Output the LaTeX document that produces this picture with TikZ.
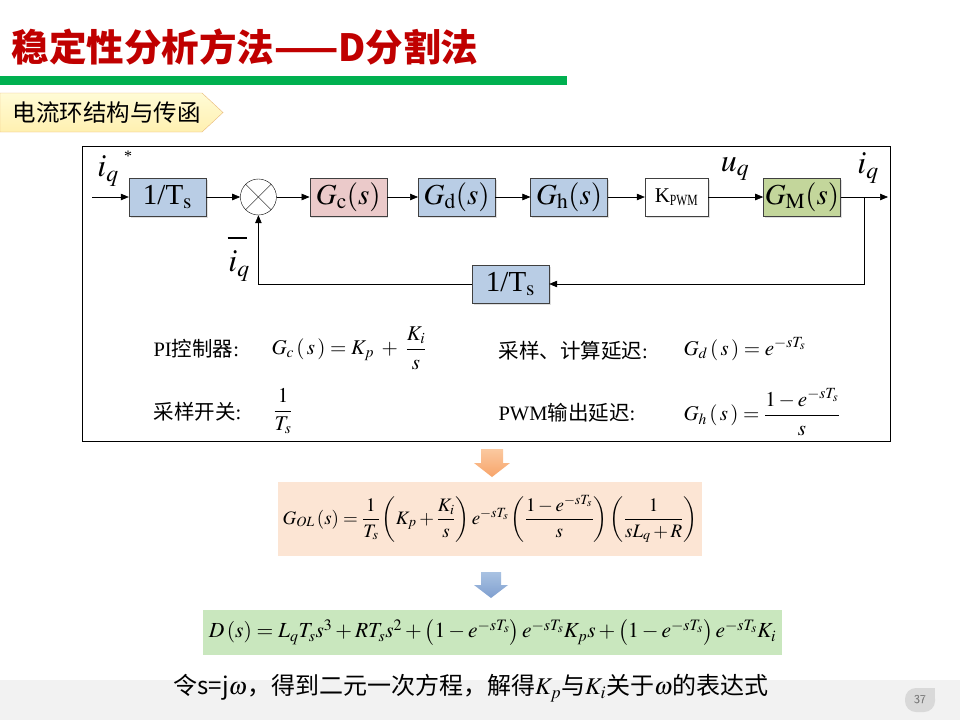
\documentclass[tikz,border=0pt]{standalone}
\usepackage{amsmath}
\usepackage[no-math]{fontspec}
\usepackage{mathptmx}
\usepackage{graphicx}
\setmainfont{Liberation Serif}
\newfontfamily\cjk{Noto Sans CJK SC}
\usetikzlibrary{arrows.meta, positioning, shadows}
\definecolor{TitleRed}{HTML}{C00000}
\definecolor{BarGreen}{HTML}{00B050}
\definecolor{TabTop}{HTML}{FFFBD6}
\definecolor{TabBottom}{HTML}{FFF0B0}
\definecolor{TabEdge}{HTML}{E8B878}
\definecolor{BlockBlue}{HTML}{B9CDE5}
\definecolor{BlockPink}{HTML}{EBCACA}
\definecolor{BlockGreen}{HTML}{C3D69B}
\definecolor{EdgeGray}{HTML}{404040}
\definecolor{OLFill}{HTML}{FCE5D4}
\definecolor{DFill}{HTML}{C9E7BE}
\definecolor{OrangeTop}{HTML}{FBC9A0}
\definecolor{OrangeBottom}{HTML}{F7A46A}
\definecolor{BlueTop}{HTML}{A9C2E2}
\definecolor{BlueBottom}{HTML}{7F9FCF}
\definecolor{StripGray}{HTML}{F2F2F2}
\definecolor{NumGray}{HTML}{D9D9D9}
\definecolor{NumText}{HTML}{7F7F7F}

\begin{document}
\begin{tikzpicture}[x=1pt, y=-1pt,
    block/.style={rectangle, draw=EdgeGray, fill=BlockBlue, minimum width=77pt, minimum height=38pt, inner sep=0pt, font=\fontsize{29}{29}\selectfont, drop shadow={opacity=0.25, shadow xshift=1.5pt, shadow yshift=-1.5pt}},
    ctrlblock/.style={block, fill=BlockPink},
    plantblock/.style={block, fill=BlockGreen},
    gainblock/.style={block, fill=white, minimum width=63pt, font=\fontsize{21}{21}\selectfont},
    sumnode/.style={circle, draw, fill=white, minimum size=36pt, inner sep=0pt, path picture={
        \draw (path picture bounding box.north west) -- (path picture bounding box.south east);
        \draw (path picture bounding box.south west) -- (path picture bounding box.north east);}},
    arrow/.style={-{Triangle[length=8pt,width=6.5pt]}, semithick},
    siglabel/.style={font=\fontsize{32}{32}\selectfont},
    note/.style={anchor=west, font=\cjk\fontsize{20.5}{21}\selectfont},
    formula/.style={anchor=west, font=\fontsize{21}{21}\selectfont},
    eqbox/.style={inner sep=0pt}
  ]
  \useasboundingbox[fill=white] (0,0) rectangle (960,720);
  \fill[StripGray] (0,680) rectangle (960,720);

  \node[anchor=west, text=TitleRed, font=\cjk\bfseries\fontsize{37.5}{40}\selectfont] (title) at (8,47) {稳定性分析方法——D分割法};
  \fill[BarGreen] (0,76) rectangle (567,85);
  \draw[TabEdge, top color=TabTop, bottom color=TabBottom] (0,93) -- (202,93) -- (223,112.5) -- (202,132) -- (0,132) -- cycle;
  \node[anchor=west, font=\cjk\fontsize{23.5}{24}\selectfont] (tab) at (9,113) {电流环结构与传函};

  \draw[semithick] (82,146) rectangle (890,441);

  \node[block] (ts) at (167.5,197) {1/T$_\mathrm{s}$};
  \node[sumnode, right=34pt of ts] (sum) {};
  \node[ctrlblock, right=33pt of sum] (gc) {$G_\mathrm{c}(s)$};
  \node[block, right=31pt of gc] (gd) {$G_\mathrm{d}(s)$};
  \node[block, right=35pt of gd] (gh) {$G_\mathrm{h}(s)$};
  \node[gainblock, right=37pt of gh] (kpwm) {K$_{\text{\scalebox{0.75}[1]{PWM}}}$};
  \node[plantblock, right=55pt of kpwm] (gm) {$G_\mathrm{M}(s)$};
  \node[block] (fb) at (510.5,284) {1/T$_\mathrm{s}$};
  \coordinate (in) at (92,197);
  \coordinate (br) at (864,197);
  \coordinate (out) at (888,197);

  \draw[arrow] (in) -- (ts);
  \draw[arrow] (ts) -- (sum);
  \draw[arrow] (sum) -- (gc);
  \draw[arrow] (gc) -- (gd);
  \draw[arrow] (gd) -- (gh);
  \draw[arrow] (gh) -- (kpwm);
  \draw[arrow] (kpwm) -- (gm);
  \draw[arrow] (gm) -- (out);
  \draw[arrow] (br) |- (fb);
  \draw[arrow] (fb) -| (sum);

  \node[siglabel] (iqref) at (108,171) {$i_q$};
  \node[font=\fontsize{16}{16}\selectfont] (star) at (128,156) {*};
  \node[siglabel] (uq) at (735,169) {$u_q$};
  \node[siglabel] (iqout) at (868,168) {$i_q$};
  \node[inner sep=0pt] (minus) at (237,238) {\rule{19pt}{2.4pt}};
  \node[siglabel] (iqfb) at (239,266) {$i_q$};

  \node[note] (pilabel) at (150,349) {{\rmfamily PI}控制器{\rmfamily :}};
  \node[formula] (gcform) at (268,348) {$G_c\left(\,s\,\right)=K_p\;+\;\dfrac{K_i}{s}$};
  \node[note] (tslabel) at (150,412) {采样开关{\rmfamily :}};
  \node[formula] (tsform) at (270,411) {$\dfrac{1}{T_s}$};
  \node[note] (gdlabel) at (495,351) {采样、计算延迟{\rmfamily :}};
  \node[formula] (gdform) at (680,349) {$G_d\left(\,s\,\right)=e^{-sT_s}$};
  \node[note] (ghlabel) at (495,413) {{\rmfamily PWM}输出延迟{\rmfamily :}};
  \node[formula] (ghform) at (680,412) {$G_h\left(\,s\,\right)=\dfrac{1-e^{-sT_s}}{s}$};

  \draw[draw=none, top color=OrangeTop, bottom color=OrangeBottom] (481,449) -- (503,449) -- (503,463) -- (510,463) -- (492,477) -- (474,463) -- (481,463) -- cycle;
  \node[eqbox, fill=OLFill, minimum width=424pt, minimum height=74pt, font=\fontsize{19}{19}\selectfont] (olbox) at (490,519)
    {$G_{OL}\left(s\right)=\dfrac{1}{T_s}\left(K_p+\dfrac{K_i}{s}\right)e^{-sT_s}\left(\dfrac{1-e^{-sT_s}}{s}\right)\left(\dfrac{1}{sL_q+R}\right)$};
  \draw[draw=none, top color=BlueTop, bottom color=BlueBottom] (481,572) -- (501,572) -- (501,585) -- (508,585) -- (491,598) -- (474,585) -- (481,585) -- cycle;
  \node[eqbox, fill=DFill, minimum width=579pt, minimum height=45pt, font=\fontsize{21.5}{21.5}\selectfont] (dbox) at (492.5,632.5)
    {$D\left(s\right)=L_qT_ss^3+RT_ss^2+\left(1-e^{-sT_s}\right)e^{-sT_s}K_ps+\left(1-e^{-sT_s}\right)e^{-sT_s}K_i$};

  \node[font=\cjk\fontsize{24}{24}\selectfont] (hint) at (471,688) {令s=j$\omega$，得到二元一次方程，解得$K_p$与$K_i$关于$\omega$的表达式};

  \node[fill=NumGray, rounded corners=11pt, minimum width=30pt, minimum height=24pt, text=NumText, font=\sffamily\fontsize{12}{12}\selectfont] (pagenum) at (920,700) {37};
  \fill[NumGray] (pagenum.north east) rectangle ([xshift=-11pt, yshift=-11pt]pagenum.north east);
  \node[text=NumText, font=\sffamily\fontsize{12}{12}\selectfont] at (pagenum) {37};
\end{tikzpicture}
\end{document}
